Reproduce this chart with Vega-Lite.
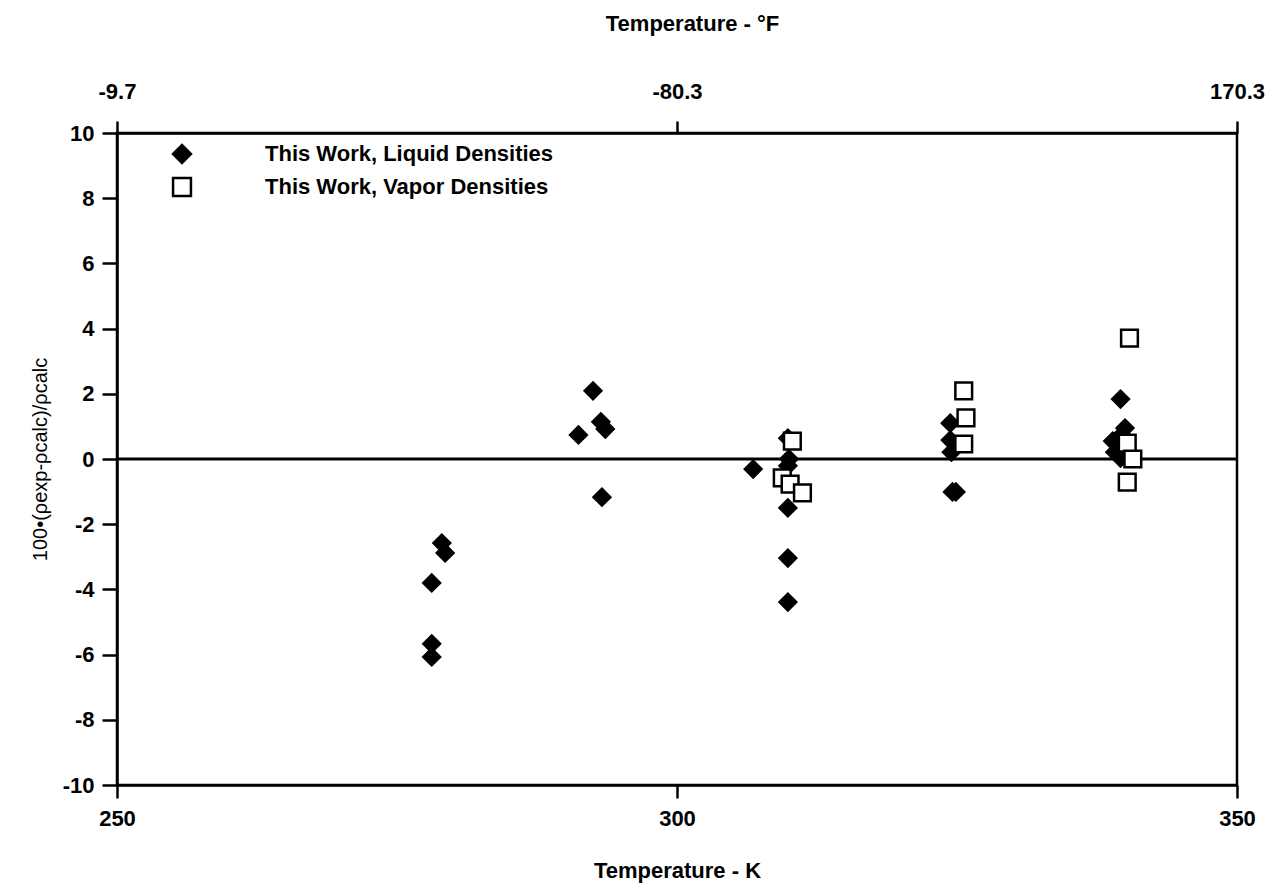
{
  "$schema": "https://vega.github.io/schema/vega-lite/v6.json",
  "width": 1120,
  "height": 652,
  "autosize": "none",
  "padding": {"left": 117, "top": 133, "right": 39, "bottom": 110},
  "background": "white",
  "config": {
    "font": "Liberation Sans",
    "view": {"stroke": "black", "strokeWidth": 2.5},
    "axis": {
      "grid": false,
      "domainColor": "black",
      "domainWidth": 2.5,
      "tickColor": "black",
      "tickWidth": 2.5,
      "labelColor": "black",
      "labelFontSize": 22,
      "labelFontWeight": "bold",
      "labelFlush": false,
      "labelOverlap": false,
      "titleColor": "black",
      "titleFontSize": 22,
      "titleFontWeight": "bold"
    },
    "legend": {
      "orient": "none",
      "legendX": 54,
      "legendY": 10,
      "labelOffset": 72,
      "symbolSize": 320,
      "symbolStrokeWidth": 2.5,
      "labelFontSize": 22,
      "labelFontWeight": "bold",
      "labelColor": "black",
      "labelLimit": 500,
      "rowPadding": 5
    }
  },
  "layer": [
    {
      "data": {"values": [{"z": 0}]},
      "mark": {"type": "rule", "strokeWidth": 3, "color": "black"},
      "encoding": {"y": {"field": "z", "type": "quantitative"}}
    },
    {
      "data": {
        "values": [
          {"T": 279.0, "D": -2.58, "series": "This Work, Liquid Densities"},
          {"T": 279.3, "D": -2.88, "series": "This Work, Liquid Densities"},
          {"T": 278.1, "D": -3.8, "series": "This Work, Liquid Densities"},
          {"T": 278.1, "D": -5.67, "series": "This Work, Liquid Densities"},
          {"T": 278.1, "D": -6.07, "series": "This Work, Liquid Densities"},
          {"T": 292.5, "D": 2.09, "series": "This Work, Liquid Densities"},
          {"T": 293.2, "D": 1.14, "series": "This Work, Liquid Densities"},
          {"T": 293.6, "D": 0.92, "series": "This Work, Liquid Densities"},
          {"T": 291.2, "D": 0.74, "series": "This Work, Liquid Densities"},
          {"T": 293.3, "D": -1.17, "series": "This Work, Liquid Densities"},
          {"T": 309.9, "D": 0.64, "series": "This Work, Liquid Densities"},
          {"T": 310.0, "D": 0.0, "series": "This Work, Liquid Densities"},
          {"T": 309.9, "D": -0.21, "series": "This Work, Liquid Densities"},
          {"T": 306.8, "D": -0.31, "series": "This Work, Liquid Densities"},
          {"T": 309.9, "D": -1.5, "series": "This Work, Liquid Densities"},
          {"T": 309.9, "D": -3.04, "series": "This Work, Liquid Densities"},
          {"T": 309.9, "D": -4.39, "series": "This Work, Liquid Densities"},
          {"T": 324.4, "D": 1.1, "series": "This Work, Liquid Densities"},
          {"T": 324.4, "D": 0.58, "series": "This Work, Liquid Densities"},
          {"T": 324.5, "D": 0.21, "series": "This Work, Liquid Densities"},
          {"T": 324.6, "D": -1.01, "series": "This Work, Liquid Densities"},
          {"T": 324.9, "D": -1.01, "series": "This Work, Liquid Densities"},
          {"T": 339.6, "D": 1.84, "series": "This Work, Liquid Densities"},
          {"T": 340.0, "D": 0.95, "series": "This Work, Liquid Densities"},
          {"T": 339.7, "D": 0.74, "series": "This Work, Liquid Densities"},
          {"T": 338.9, "D": 0.55, "series": "This Work, Liquid Densities"},
          {"T": 339.1, "D": 0.21, "series": "This Work, Liquid Densities"},
          {"T": 339.6, "D": 0.03, "series": "This Work, Liquid Densities"},
          {"T": 310.3, "D": 0.55, "series": "This Work, Vapor Densities"},
          {"T": 309.4, "D": -0.58, "series": "This Work, Vapor Densities"},
          {"T": 310.1, "D": -0.77, "series": "This Work, Vapor Densities"},
          {"T": 311.2, "D": -1.04, "series": "This Work, Vapor Densities"},
          {"T": 325.6, "D": 2.09, "series": "This Work, Vapor Densities"},
          {"T": 325.8, "D": 1.26, "series": "This Work, Vapor Densities"},
          {"T": 325.6, "D": 0.46, "series": "This Work, Vapor Densities"},
          {"T": 340.4, "D": 3.71, "series": "This Work, Vapor Densities"},
          {"T": 340.2, "D": 0.49, "series": "This Work, Vapor Densities"},
          {"T": 340.7, "D": 0.0, "series": "This Work, Vapor Densities"},
          {"T": 340.2, "D": -0.71, "series": "This Work, Vapor Densities"}
        ]
      },
      "mark": {"type": "point", "filled": true, "strokeWidth": 2.5, "opacity": 1, "size": 280},
      "encoding": {
        "x": {
          "field": "T", "type": "quantitative",
          "scale": {"domain": [250, 350], "nice": false, "zero": false},
          "axis": {"values": [250, 300, 350], "tickSize": 13, "labelPadding": 10, "title": "Temperature - K", "titlePadding": 31}
        },
        "y": {
          "field": "D", "type": "quantitative",
          "scale": {"domain": [-10, 10], "nice": false},
          "axis": {"values": [-10, -8, -6, -4, -2, 0, 2, 4, 6, 8, 10], "tickSize": 15, "labelPadding": 8, "labelExpr": "datum.value < 0 ? '-' + abs(datum.value) : '' + datum.value", "title": "100•(ρexp-ρcalc)/ρcalc", "titlePadding": 12, "titleFontSize": 20, "titleFontWeight": "normal"}
        },
        "shape": {
          "field": "series", "type": "nominal", "title": null,
          "scale": {"domain": ["This Work, Liquid Densities", "This Work, Vapor Densities"], "range": ["diamond", "square"]}
        },
        "fill": {
          "field": "series", "type": "nominal", "title": null,
          "scale": {"domain": ["This Work, Liquid Densities", "This Work, Vapor Densities"], "range": ["black", "white"]}
        },
        "stroke": {
          "field": "series", "type": "nominal", "title": null,
          "scale": {"domain": ["This Work, Liquid Densities", "This Work, Vapor Densities"], "range": ["black", "black"]}
        }
      }
    },
    {
      "data": {"values": [{"F": -9.7}, {"F": 170.3}]},
      "mark": {"type": "point", "opacity": 0},
      "encoding": {
        "x": {
          "field": "F", "type": "quantitative",
          "scale": {"domain": [-9.7, 170.3], "nice": false, "zero": false},
          "axis": {"orient": "top", "values": [-9.7, 80.3, 170.3], "tickSize": 12, "labelPadding": 18, "labelExpr": "datum.value == 80.3 ? '-80.3' : (datum.value < 0 ? '-' + abs(datum.value) : '' + datum.value)", "title": "Temperature - °F", "titlePadding": 45, "titleX": 575}
        }
      }
    }
  ],
  "resolve": {"scale": {"x": "independent"}}
}
